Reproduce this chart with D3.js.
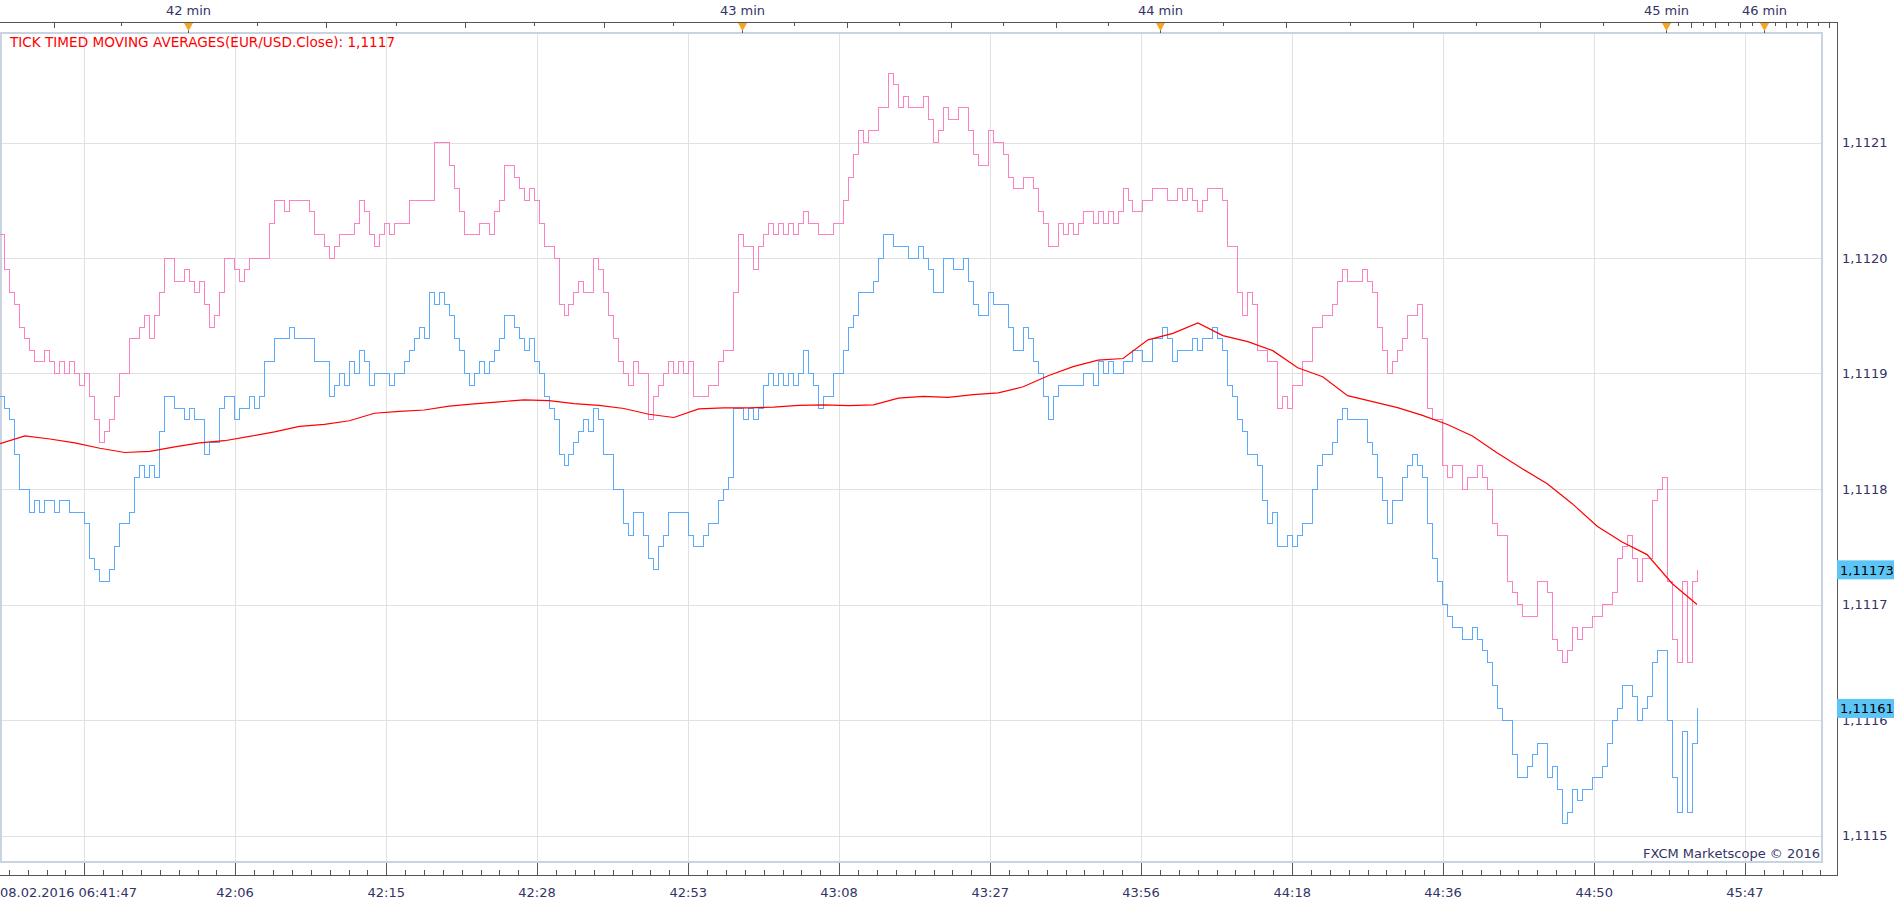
<!DOCTYPE html>
<html>
<head>
<meta charset="utf-8">
<script src="https://cdn.jsdelivr.net/npm/d3@7/dist/d3.min.js"></script>
<style>
  body { margin: 0; background: #fff; overflow: hidden; }
  text { font-family: "DejaVu Sans", Verdana, sans-serif; font-size: 13px; }
</style>
</head>
<body>
<div id="chart"></div>
<script>
// Ask prices, one value per tick slot (pink line)
const askValues = [
  1.11202,1.11199,1.11197,1.11196,1.11194,1.11193,1.11192,1.11191,1.11191,1.11192,
  1.11191,1.11190,1.11191,1.11190,1.11191,1.11190,1.11189,1.11190,1.11188,1.11186,
  1.11184,1.11185,1.11186,1.11188,1.11190,1.11190,1.11193,1.11193,1.11194,1.11195,
  1.11193,1.11195,1.11197,1.11200,1.11200,1.11198,1.11198,1.11199,1.11198,1.11197,
  1.11198,1.11196,1.11194,1.11195,1.11197,1.11200,1.11200,1.11199,1.11198,1.11199,
  1.11200,1.11200,1.11200,1.11200,1.11203,1.11205,1.11205,1.11204,1.11205,1.11205,
  1.11205,1.11205,1.11204,1.11202,1.11202,1.11201,1.11200,1.11201,1.11202,1.11202,
  1.11202,1.11203,1.11205,1.11204,1.11202,1.11201,1.11202,1.11203,1.11202,1.11203,
  1.11203,1.11203,1.11205,1.11205,1.11205,1.11205,1.11205,1.11210,1.11210,1.11210,
  1.11208,1.11206,1.11204,1.11202,1.11202,1.11202,1.11203,1.11203,1.11202,1.11204,
  1.11205,1.11208,1.11208,1.11207,1.11206,1.11205,1.11206,1.11205,1.11203,1.11201,
  1.11201,1.11200,1.11196,1.11195,1.11196,1.11197,1.11198,1.11197,1.11197,1.11200,
  1.11199,1.11197,1.11195,1.11193,1.11191,1.11190,1.11189,1.11191,1.11190,1.11190,
  1.11186,1.11188,1.11189,1.11190,1.11191,1.11190,1.11191,1.11190,1.11191,1.11188,
  1.11188,1.11188,1.11189,1.11189,1.11191,1.11192,1.11192,1.11197,1.11202,1.11201,
  1.11201,1.11199,1.11201,1.11202,1.11203,1.11202,1.11203,1.11202,1.11203,1.11202,
  1.11203,1.11204,1.11203,1.11203,1.11202,1.11202,1.11202,1.11203,1.11203,1.11205,
  1.11207,1.11209,1.11211,1.11210,1.11211,1.11211,1.11213,1.11213,1.11216,1.11215,
  1.11213,1.11214,1.11213,1.11213,1.11213,1.11214,1.11212,1.11210,1.11211,1.11213,
  1.11212,1.11212,1.11213,1.11213,1.11211,1.11209,1.11208,1.11208,1.11211,1.11210,
  1.11210,1.11209,1.11207,1.11206,1.11206,1.11207,1.11207,1.11206,1.11204,1.11203,
  1.11201,1.11201,1.11203,1.11202,1.11203,1.11202,1.11203,1.11204,1.11204,1.11203,
  1.11204,1.11203,1.11204,1.11203,1.11204,1.11206,1.11205,1.11204,1.11204,1.11205,
  1.11205,1.11206,1.11206,1.11206,1.11205,1.11205,1.11206,1.11205,1.11206,1.11205,
  1.11204,1.11205,1.11206,1.11206,1.11206,1.11205,1.11201,1.11201,1.11197,1.11195,
  1.11197,1.11196,1.11192,1.11192,1.11191,1.11191,1.11187,1.11188,1.11187,1.11189,
  1.11189,1.11191,1.11191,1.11194,1.11194,1.11195,1.11195,1.11196,1.11198,1.11199,
  1.11198,1.11198,1.11198,1.11199,1.11198,1.11197,1.11194,1.11192,1.11190,1.11191,
  1.11192,1.11193,1.11195,1.11195,1.11196,1.11193,1.11187,1.11186,1.11186,1.11182,
  1.11181,1.11182,1.11182,1.11180,1.11181,1.11181,1.11182,1.11181,1.11180,1.11177,
  1.11176,1.11176,1.11172,1.11171,1.11170,1.11169,1.11169,1.11169,1.11172,1.11172,
  1.11171,1.11167,1.11166,1.11165,1.11166,1.11168,1.11167,1.11168,1.11168,1.11169,
  1.11169,1.11170,1.11170,1.11171,1.11174,1.11175,1.11176,1.11174,1.11172,1.11174,
  1.11174,1.11179,1.11180,1.11181,1.11172,1.11167,1.11165,1.11172,1.11165,1.11172,
  1.11173
];

// Bid prices, same tick slots (blue line)
const bidValues = [
  1.11188,1.11187,1.11186,1.11183,1.11180,1.11180,1.11178,1.11179,1.11178,1.11179,
  1.11179,1.11178,1.11179,1.11179,1.11178,1.11178,1.11178,1.11177,1.11174,1.11173,
  1.11172,1.11172,1.11173,1.11175,1.11177,1.11177,1.11178,1.11181,1.11182,1.11181,
  1.11182,1.11181,1.11185,1.11188,1.11188,1.11187,1.11187,1.11186,1.11187,1.11186,
  1.11186,1.11183,1.11184,1.11184,1.11187,1.11188,1.11188,1.11186,1.11187,1.11187,
  1.11188,1.11187,1.11188,1.11191,1.11191,1.11193,1.11193,1.11193,1.11194,1.11193,
  1.11193,1.11193,1.11193,1.11191,1.11191,1.11191,1.11188,1.11189,1.11190,1.11189,
  1.11191,1.11190,1.11192,1.11191,1.11189,1.11190,1.11190,1.11190,1.11189,1.11190,
  1.11190,1.11191,1.11192,1.11193,1.11194,1.11193,1.11197,1.11196,1.11197,1.11196,
  1.11195,1.11193,1.11192,1.11190,1.11189,1.11190,1.11191,1.11190,1.11191,1.11192,
  1.11193,1.11195,1.11195,1.11194,1.11193,1.11192,1.11193,1.11191,1.11190,1.11188,
  1.11187,1.11186,1.11183,1.11182,1.11183,1.11184,1.11185,1.11186,1.11185,1.11187,
  1.11186,1.11183,1.11183,1.11180,1.11180,1.11177,1.11176,1.11178,1.11178,1.11176,
  1.11174,1.11173,1.11175,1.11176,1.11178,1.11178,1.11178,1.11178,1.11176,1.11175,
  1.11175,1.11176,1.11177,1.11177,1.11179,1.11180,1.11181,1.11187,1.11187,1.11186,
  1.11187,1.11186,1.11187,1.11189,1.11190,1.11189,1.11190,1.11189,1.11190,1.11189,
  1.11190,1.11192,1.11190,1.11189,1.11187,1.11188,1.11188,1.11190,1.11190,1.11192,
  1.11194,1.11195,1.11197,1.11197,1.11197,1.11198,1.11200,1.11202,1.11202,1.11201,
  1.11201,1.11201,1.11200,1.11200,1.11201,1.11200,1.11199,1.11197,1.11197,1.11200,
  1.11200,1.11199,1.11199,1.11200,1.11198,1.11196,1.11195,1.11195,1.11197,1.11196,
  1.11196,1.11196,1.11194,1.11192,1.11192,1.11194,1.11193,1.11191,1.11190,1.11188,
  1.11186,1.11188,1.11189,1.11189,1.11189,1.11189,1.11189,1.11190,1.11190,1.11189,
  1.11191,1.11190,1.11191,1.11190,1.11190,1.11191,1.11191,1.11192,1.11192,1.11191,
  1.11191,1.11193,1.11193,1.11194,1.11193,1.11191,1.11192,1.11192,1.11192,1.11193,
  1.11192,1.11193,1.11193,1.11194,1.11193,1.11192,1.11189,1.11188,1.11186,1.11185,
  1.11183,1.11183,1.11182,1.11179,1.11177,1.11178,1.11175,1.11175,1.11176,1.11175,
  1.11176,1.11177,1.11177,1.11180,1.11182,1.11183,1.11183,1.11184,1.11186,1.11187,
  1.11186,1.11186,1.11186,1.11186,1.11184,1.11183,1.11181,1.11179,1.11177,1.11179,
  1.11179,1.11181,1.11182,1.11183,1.11182,1.11181,1.11177,1.11174,1.11172,1.11170,
  1.11169,1.11168,1.11168,1.11167,1.11167,1.11168,1.11167,1.11166,1.11165,1.11163,
  1.11161,1.11160,1.11160,1.11157,1.11155,1.11155,1.11156,1.11157,1.11158,1.11158,
  1.11155,1.11156,1.11154,1.11151,1.11152,1.11154,1.11153,1.11154,1.11154,1.11155,
  1.11155,1.11156,1.11158,1.11160,1.11161,1.11163,1.11163,1.11162,1.11160,1.11161,
  1.11162,1.11165,1.11166,1.11166,1.11160,1.11155,1.11152,1.11159,1.11152,1.11158,
  1.11161
];

// Tick timed moving average, one value every 5 tick slots (red line)
const maStep = 5;
const maValues = [
  1.1118393,1.1118460,1.1118433,1.1118400,1.1118353,1.1118316,1.1118325,1.1118365,1.1118400,1.1118418,
  1.1118455,1.1118495,1.1118542,1.1118560,1.1118591,1.1118656,1.1118672,1.1118684,1.1118718,1.1118737,
  1.1118755,1.1118771,1.1118765,1.1118740,1.1118724,1.1118697,1.1118647,1.1118619,1.1118693,1.1118703,
  1.1118703,1.1118709,1.1118724,1.1118728,1.1118721,1.1118728,1.1118786,1.1118802,1.1118793,1.1118817,
  1.1118833,1.1118885,1.1118981,1.1119059,1.1119115,1.1119130,1.1119291,1.1119347,1.1119437,1.1119328,
  1.1119276,1.1119198,1.1119050,1.1118972,1.1118808,1.1118757,1.1118705,1.1118637,1.1118558,1.1118459,
  1.1118312,1.1118175,1.1118045,1.1117873,1.1117678,1.1117541,1.1117432,1.1117182,1.1117000
];

// Bottom time labels and where they sit (tick slot)
const timeLabels = ["08.02.2016 06:41:47", "42:06", "42:15", "42:28", "42:53", "43:08",
                    "43:27", "43:56", "44:18", "44:36", "44:50", "45:47"];
const timeSlots = [16.9, 47.1, 77.4, 107.6, 137.9, 168.1, 198.4, 228.6, 258.9, 289.1, 319.4, 349.6];

// Minute markers on the top axis (41 and 47 only give tick spacing)
const minuteLabels = ["41 min", "42 min", "43 min", "44 min", "45 min", "46 min", "47 min"];
const minuteSlots = [-69.8, 37.6, 148.7, 232.4, 333.8, 353.5, 370.7];

// Price levels for the right axis
const priceTicks = [1.1115, 1.1116, 1.1117, 1.1118, 1.1119, 1.1120, 1.1121];

const width = 1903, height = 905;
const plotRight = 1822, plotTop = 33, plotBottom = 862;
const axisX = 1837, topAxisY = 22, bottomAxisY = 875;
const navy = "#333366";

const svg = d3.select("#chart")
  .append("svg")
  .attr("width", width)
  .attr("height", height)
  .style("display", "block")
  .style("background-color", "#fff");

// Scales: x is the tick slot, y the price
const x = d3.scaleLinear().domain([0, 340]).range([0, 1697]);
const y = d3.scaleLinear().domain([1.1115, 1.1121]).range([835.5, 142.5]);

const commaFmt = (f) => (v) => d3.format(f)(v).replace(".", ",");
const fmt4 = commaFmt(".4f");
const fmt5 = commaFmt(".5f");

svg.append("clipPath").attr("id", "plotClip")
  .append("rect")
  .attr("x", 0).attr("y", plotTop)
  .attr("width", plotRight).attr("height", plotBottom - plotTop);

// Grid lines
const grid = svg.append("g").attr("shape-rendering", "crispEdges");
grid.selectAll(".hgrid")
  .data(priceTicks)
  .enter()
  .append("line")
  .attr("x1", 0).attr("x2", plotRight)
  .attr("y1", d => Math.round(y(d)) + 0.5).attr("y2", d => Math.round(y(d)) + 0.5)
  .attr("stroke", "#e1e1e1");
grid.selectAll(".vgrid")
  .data(timeSlots)
  .enter()
  .append("line")
  .attr("x1", d => Math.round(x(d)) + 0.5).attr("x2", d => Math.round(x(d)) + 0.5)
  .attr("y1", plotTop).attr("y2", plotBottom)
  .attr("stroke", "#e1e1e1");

// Plot frame
svg.append("rect")
  .attr("x", 1).attr("y", plotTop)
  .attr("width", plotRight - 1).attr("height", plotBottom - plotTop)
  .attr("fill", "none")
  .attr("stroke", "#cad4e0")
  .attr("stroke-width", 2);

// Lines
const lines = svg.append("g").attr("clip-path", "url(#plotClip)");

const stepLine = d3.line()
  .x((d, i) => x(i))
  .y(d => y(d))
  .curve(d3.curveStepAfter);

lines.append("path")
  .attr("d", stepLine(askValues))
  .attr("fill", "none")
  .attr("stroke", "#ff80c0")
  .attr("stroke-width", 1)
  .attr("shape-rendering", "crispEdges");

lines.append("path")
  .attr("d", stepLine(bidValues))
  .attr("fill", "none")
  .attr("stroke", "#5aaaff")
  .attr("stroke-width", 1)
  .attr("shape-rendering", "crispEdges");

const maLine = d3.line()
  .x((d, i) => x(i * maStep))
  .y(d => y(d));

lines.append("path")
  .attr("d", maLine(maValues))
  .attr("fill", "none")
  .attr("stroke", "#ff0000")
  .attr("stroke-width", 1.2);

// Axis lines
const axes = svg.append("g").attr("shape-rendering", "crispEdges");
axes.append("path")
  .attr("d", `M0,${topAxisY + 0.5}H${axisX + 0.5}V${bottomAxisY + 0.5}H0`)
  .attr("fill", "none")
  .attr("stroke", "#555")
  .attr("stroke-width", 1.5);

// Bottom ticks: majors at the labels, 8 subdivisions between
const slotStep = (timeSlots[timeSlots.length - 1] - timeSlots[0]) / (timeSlots.length - 1);
const minorSlots = d3.range(-8, 8 * 12 + 1).map(m => timeSlots[0] + m * slotStep / 8)
  .filter(s => x(s) >= 2 && x(s) <= axisX - 2);
axes.selectAll(".btick")
  .data(minorSlots)
  .enter()
  .append("line")
  .attr("x1", d => Math.round(x(d)) + 0.5).attr("x2", d => Math.round(x(d)) + 0.5)
  .attr("y1", bottomAxisY - 5).attr("y2", bottomAxisY)
  .attr("stroke", "#555");
axes.selectAll(".bmajor")
  .data(timeSlots)
  .enter()
  .append("line")
  .attr("x1", d => Math.round(x(d)) + 0.5).attr("x2", d => Math.round(x(d)) + 0.5)
  .attr("y1", plotBottom + 1).attr("y2", bottomAxisY)
  .attr("stroke", "#555");

svg.selectAll(".blabel")
  .data(timeLabels)
  .enter()
  .append("text")
  .attr("x", (d, i) => i === 0 ? 0 : x(timeSlots[i]))
  .attr("y", 897)
  .attr("text-anchor", (d, i) => i === 0 ? "start" : "middle")
  .attr("fill", navy)
  .text(d => d);

// Top ticks: 8 per minute, every second one longer
const topTicks = [];
for (let m = 0; m < minuteSlots.length - 1; m++) {
  for (let k = 1; k < 8; k++) {
    topTicks.push({ slot: minuteSlots[m] + (minuteSlots[m + 1] - minuteSlots[m]) * k / 8, long: k % 2 === 0 });
  }
}
axes.selectAll(".ttick")
  .data(topTicks.filter(t => x(t.slot) >= 2 && x(t.slot) <= axisX - 2))
  .enter()
  .append("line")
  .attr("x1", d => Math.round(x(d.slot)) + 0.5).attr("x2", d => Math.round(x(d.slot)) + 0.5)
  .attr("y1", topAxisY).attr("y2", d => topAxisY + (d.long ? 6 : 4))
  .attr("stroke", "#555");

const shownMinutes = minuteSlots.map((s, i) => ({ slot: s, label: minuteLabels[i] }))
  .filter(d => x(d.slot) > 0 && x(d.slot) < axisX);

const markers = svg.selectAll(".minute")
  .data(shownMinutes)
  .enter()
  .append("g")
  .attr("transform", d => `translate(${Math.round(x(d.slot)) + 0.5},0)`);
markers.append("line")
  .attr("y1", topAxisY).attr("y2", plotTop)
  .attr("stroke", "#555")
  .attr("shape-rendering", "crispEdges");
markers.append("path")
  .attr("d", `M-4.5,${topAxisY + 1}L4.5,${topAxisY + 1}L0,${topAxisY + 9}Z`)
  .attr("fill", "#f5a424");
markers.append("text")
  .attr("y", 15)
  .attr("text-anchor", "middle")
  .attr("fill", navy)
  .text(d => d.label);

// Right price axis ticks every 0.00001
const smallTicks = d3.range(111470, 111722).map(v => v / 100000)
  .filter(p => y(p) > 36 && y(p) < 871);
axes.selectAll(".rtick")
  .data(smallTicks)
  .enter()
  .append("line")
  .attr("x1", d => {
    const u = Math.round(d * 100000);
    if (u % 10 === 0) return plotRight;
    return u % 5 === 0 ? axisX - 7 : axisX - 4;
  })
  .attr("x2", axisX)
  .attr("y1", d => Math.round(y(d)) + 0.5).attr("y2", d => Math.round(y(d)) + 0.5)
  .attr("stroke", "#555");

svg.selectAll(".rlabel")
  .data(priceTicks)
  .enter()
  .append("text")
  .attr("x", axisX + 5)
  .attr("y", d => y(d))
  .attr("dy", "0.36em")
  .attr("fill", navy)
  .text(d => fmt4(d));

// Last price boxes
const lastPrices = [askValues[askValues.length - 1], bidValues[bidValues.length - 1]];
const boxes = svg.selectAll(".pbox")
  .data(lastPrices)
  .enter()
  .append("g")
  .attr("transform", d => `translate(${axisX},${y(d)})`);
boxes.append("rect")
  .attr("x", 0).attr("y", -9.5)
  .attr("width", 57).attr("height", 19)
  .attr("fill", "#5cc5f6");
boxes.append("text")
  .attr("x", 3)
  .attr("dy", "0.36em")
  .attr("fill", "#000")
  .text(d => fmt5(d));

// Indicator legend and watermark
svg.append("text")
  .attr("x", 10).attr("y", 47)
  .attr("fill", "#ff0000")
  .style("font-size", "13.6px")
  .text("TICK TIMED MOVING AVERAGES(EUR/USD.Close): " + fmt4(maValues[maValues.length - 1]));

svg.append("text")
  .attr("x", plotRight - 2).attr("y", 858)
  .attr("text-anchor", "end")
  .attr("fill", navy)
  .text("FXCM Marketscope \u00a9 2016");
</script>
</body>
</html>
